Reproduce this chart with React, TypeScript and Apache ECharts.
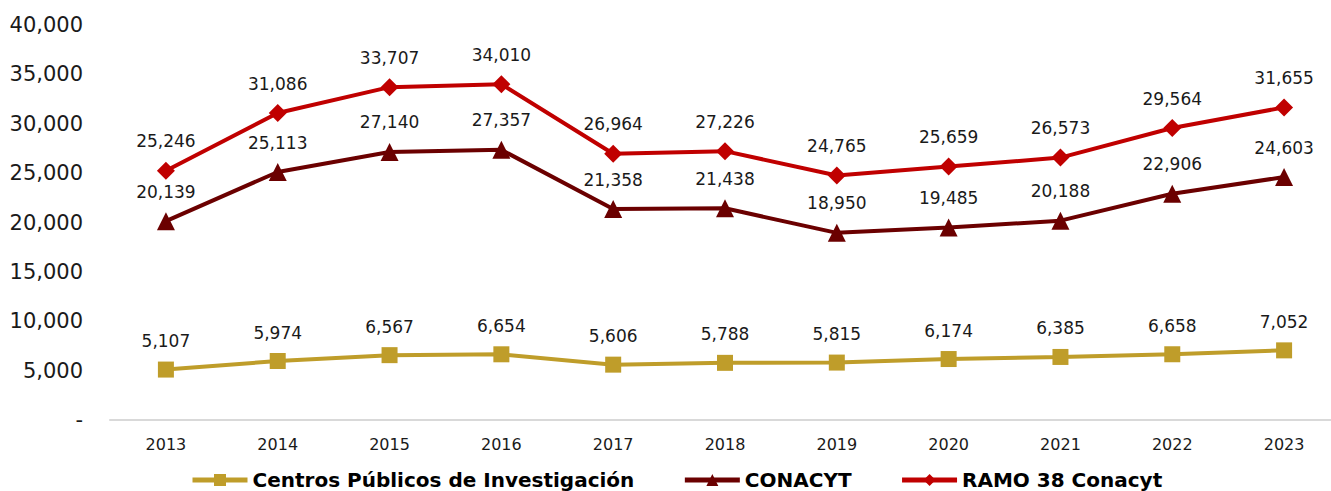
import React, { useEffect, useRef } from "react";
import * as echarts from "echarts";

const years = ["2013","2014","2015","2016","2017","2018","2019","2020","2021","2022","2023"];
const centros = [5107, 5974, 6567, 6654, 5606, 5788, 5815, 6174, 6385, 6658, 7052];
const conacyt = [20139, 25113, 27140, 27357, 21358, 21438, 18950, 19485, 20188, 22906, 24603];
const ramo38 = [25246, 31086, 33707, 34010, 26964, 27226, 24765, 25659, 26573, 29564, 31655];

const FONT = "DejaVu Sans";
const fmt = (v: number) => (v === 0 ? "-" : v.toLocaleString("en-US"));

export default function App() {
  const ref = useRef<HTMLDivElement>(null);
  useEffect(() => {
    if (!ref.current) return;
    const chart = echarts.init(ref.current, undefined, { renderer: "svg" });
    const label = {
      show: true,
      position: "top" as const,
      distance: 12,
      fontFamily: FONT,
      fontSize: 17,
      color: "#1a1a1a",
      formatter: (p: any) => fmt(p.value),
    };
    chart.setOption({
      animation: false,
      textStyle: { fontFamily: FONT },
      grid: { left: 110, right: -9, top: 25, bottom: 71, outerBoundsMode: "none", containLabel: false },
      legend: {
        bottom: -4,
        left: 185,
        itemWidth: 55,
        itemHeight: 15,
        itemGap: 48,
        lineStyle: { width: 5 },
        textStyle: { fontFamily: FONT, fontSize: 20, fontWeight: "bold", color: "#000" },
        data: ["Centros Públicos de Investigación", "CONACYT", "RAMO 38 Conacyt"],
      },
      xAxis: {
        type: "category",
        data: years,
        boundaryGap: true,
        axisLine: { lineStyle: { color: "#d9d9d9", width: 2 } },
        axisTick: { show: false },
        axisLabel: { fontFamily: FONT, fontSize: 16, color: "#1a1a1a", margin: 16 },
      },
      yAxis: {
        type: "value",
        min: 0,
        max: 40000,
        interval: 5000,
        splitLine: { show: false },
        axisLine: { show: false },
        axisTick: { show: false },
        axisLabel: { fontFamily: FONT, fontSize: 21, color: "#1a1a1a", margin: 27, formatter: fmt },
      },
      series: [
        {
          name: "Centros Públicos de Investigación",
          type: "line",
          data: centros,
          symbol: "rect",
          symbolSize: 16,
          lineStyle: { width: 4, color: "#BF9D2A" },
          itemStyle: { color: "#BF9D2A" },
          label,
        },
        {
          name: "CONACYT",
          type: "line",
          data: conacyt,
          symbol: "triangle",
          symbolSize: 18,
          lineStyle: { width: 4, color: "#6B0000" },
          itemStyle: { color: "#6B0000" },
          label,
        },
        {
          name: "RAMO 38 Conacyt",
          type: "line",
          data: ramo38,
          symbol: "diamond",
          symbolSize: 18,
          lineStyle: { width: 4, color: "#C00000" },
          itemStyle: { color: "#C00000" },
          label,
        },
      ],
    });
    return () => chart.dispose();
  }, []);
  return (
    <div
      ref={ref}
      style={{ position: "fixed", left: 0, top: 0, width: 1331, height: 491, background: "#fff" }}
    />
  );
}
